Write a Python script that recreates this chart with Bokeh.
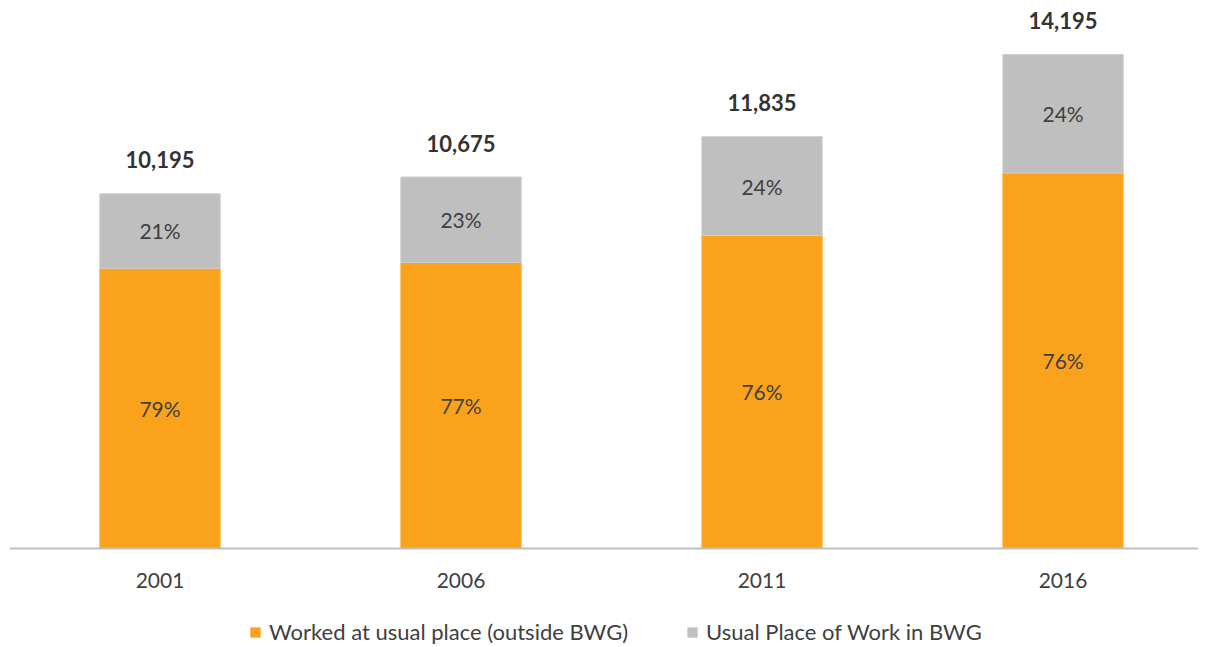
from bokeh.plotting import figure
from bokeh.models import (ColumnDataSource, Range1d, Legend, LegendItem, Span)
from bokeh.core.properties import value
from bokeh.embed import file_html
from bokeh.resources import INLINE

years = ["2001", "2006", "2011", "2016"]
totals = [10195, 10675, 11835, 14195]
outside_bwg = [8054, 8220, 8995, 10788]
in_bwg = [2141, 2455, 2840, 3407]
outside_pct = ["79%", "77%", "76%", "76%"]
in_pct = ["21%", "23%", "24%", "24%"]

ORANGE = "#FAA21C"
GRAY = "#BFBFBF"
FONT = "Lato"

xs = list(range(len(years)))
src = ColumnDataSource(dict(
    x=xs,
    year=years,
    zero=[0] * len(years),
    out=outside_bwg,
    inb=in_bwg,
    tot=totals,
    out_mid=[o / 2 for o in outside_bwg],
    in_mid=[o + i / 2 for o, i in zip(outside_bwg, in_bwg)],
    out_lbl=outside_pct,
    in_lbl=in_pct,
    tot_lbl=[f"{t:,}" for t in totals],
))

p = figure(width=1198, height=645, output_backend="svg", toolbar_location=None,
           x_range=Range1d(-0.5, 3.45), y_range=Range1d(-2787, 15747),
           min_border_left=9, min_border_right=0, min_border_top=0, min_border_bottom=0)

p.outline_line_color = None
p.xgrid.visible = False
p.ygrid.visible = False
p.xaxis.visible = False
p.yaxis.visible = False

r1 = p.vbar(x="x", bottom=0, top="out", width=0.4, source=src,
            fill_color=ORANGE, line_color="#FDB54A", line_width=1)
r2 = p.vbar(x="x", bottom="out", top="tot", width=0.4, source=src,
            fill_color=GRAY, line_color="#CFCFCF", line_width=1)

# category axis line and labels
p.add_layout(Span(location=0, dimension="width", line_color="#BFBFBF", line_width=2))
p.text(x="x", y="zero", text="year", source=src, text_align="center",
       text_baseline="middle", y_offset=32, text_font=value(FONT),
       text_font_size="21px", text_color="#404040")

p.text(x="x", y="out_mid", text="out_lbl", source=src, text_align="center",
       text_baseline="middle", text_font=value(FONT), text_font_size="21px",
       text_color="#404040")
p.text(x="x", y="in_mid", text="in_lbl", source=src, text_align="center",
       text_baseline="middle", text_font=value(FONT), text_font_size="21px",
       text_color="#404040")
p.text(x="x", y="tot", text="tot_lbl", source=src, text_align="center",
       text_baseline="middle", y_offset=-34, text_font=value(FONT),
       text_font_size="22px", text_font_style="bold", text_color="#333333")

legend = Legend(items=[
    LegendItem(label="Worked at usual place (outside BWG)", renderers=[r1]),
    LegendItem(label="Usual Place of Work in BWG", renderers=[r2]),
], orientation="horizontal", location=(240, 0),
    border_line_color=None, background_fill_alpha=0,
    label_text_font=FONT, label_text_font_size="22px", label_text_color="#404040",
    glyph_width=12, glyph_height=12, spacing=58, label_standoff=8,
    padding=0, margin=0)
p.add_layout(legend)

open("out.html", "w").write(file_html(p, INLINE))
